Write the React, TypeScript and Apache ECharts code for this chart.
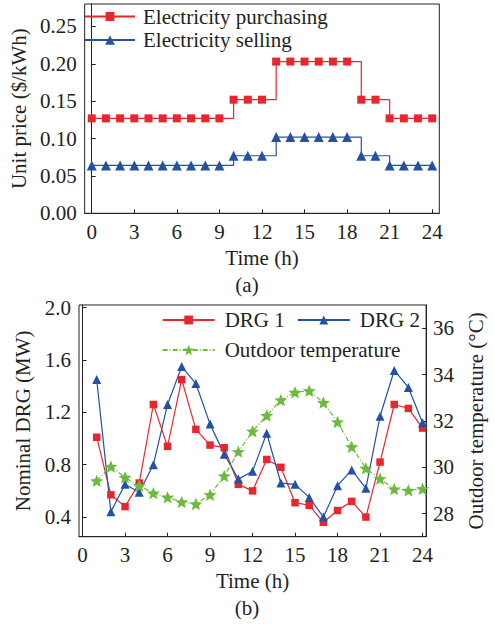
import React, { useEffect, useRef } from "react";
import * as echarts from "echarts";

const hoursTop = [0, 1, 2, 3, 4, 5, 6, 7, 8, 9, 10, 11, 12, 13, 14, 15, 16, 17, 18, 19, 20, 21, 22, 23, 24];
const purchasing = [0.127, 0.127, 0.127, 0.127, 0.127, 0.127, 0.127, 0.127, 0.127, 0.127, 0.152, 0.152, 0.152, 0.203, 0.203, 0.203, 0.203, 0.203, 0.203, 0.152, 0.152, 0.127, 0.127, 0.127, 0.127];
const selling = [0.064, 0.064, 0.064, 0.064, 0.064, 0.064, 0.064, 0.064, 0.064, 0.064, 0.077, 0.077, 0.077, 0.102, 0.102, 0.102, 0.102, 0.102, 0.102, 0.077, 0.077, 0.064, 0.064, 0.064, 0.064];

const hoursBottom = [1, 2, 3, 4, 5, 6, 7, 8, 9, 10, 11, 12, 13, 14, 15, 16, 17, 18, 19, 20, 21, 22, 23, 24];
const drg1 = [1.01, 0.57, 0.48, 0.66, 1.26, 0.94, 1.45, 1.07, 0.95, 0.93, 0.65, 0.6, 0.84, 0.78, 0.51, 0.49, 0.36, 0.45, 0.52, 0.4, 0.82, 1.26, 1.23, 1.08];
const drg2 = [1.45, 0.44, 0.65, 0.59, 0.8, 1.26, 1.55, 1.42, 1.11, 0.88, 0.69, 0.75, 1.04, 0.66, 0.65, 0.55, 0.4, 0.64, 0.76, 0.62, 1.17, 1.52, 1.39, 1.12];
const temperature = [29.41, 30.03, 29.56, 29.2, 28.88, 28.7, 28.5, 28.41, 28.81, 29.62, 30.67, 31.55, 32.23, 32.9, 33.23, 33.3, 32.79, 31.95, 30.88, 29.95, 29.5, 29.06, 29.0, 29.07];

const xTicks = [0, 3, 6, 9, 12, 15, 18, 21, 24];
const priceTicks = [0, 0.05, 0.1, 0.15, 0.2, 0.25];
const drgTicks = [0.4, 0.8, 1.2, 1.6, 2.0];
const tempTicks = [28, 30, 32, 34, 36];

const FONT = "'Liberation Serif', 'Times New Roman', 'DejaVu Serif', serif";
const TXT = "#231f20";
const RED = "#e8262d";
const BLUE = "#2352a3";
const GREEN = "#6cbb3c";
const FS = 21;
const STAR = "path://M50 0L62.93 32.2L97.55 34.55L70.92 56.8L79.39 90.45L50 72L20.61 90.45L29.08 56.8L2.45 34.55L37.07 32.2Z";

export default function App() {
  const ref = useRef<HTMLDivElement>(null);
  useEffect(() => {
    document.body.style.margin = "0";
    const chart = echarts.init(ref.current!, null, { renderer: "svg" });
    const axisLine = { show: true, lineStyle: { color: "#222", width: 1 } };
    const label = { color: TXT, fontSize: FS, fontFamily: FONT };
    const nameStyle = { color: TXT, fontSize: FS, fontFamily: FONT };
    const legendTop = { color: TXT, fontSize: FS, fontFamily: FONT, padding: [0, 0, 0, 3] };
    const legendBottom = { color: TXT, fontSize: FS, fontFamily: FONT, padding: [0, 0, 0, 5] };
    const pair = (xs: number[], ys: number[]) => xs.map((x, i) => [x, ys[i]]);

    chart.setOption({
      animation: false,
      backgroundColor: "#fff",
      grid: [
        { left: 79.3, right: 54.7, top: 4, bottom: 412.7, show: true, borderColor: "#222", borderWidth: 1, backgroundColor: "transparent" },
        { left: 79, right: 54.7, top: 305, bottom: 89.3, show: true, borderColor: "#222", borderWidth: 1, backgroundColor: "transparent" },
      ],
      xAxis: [
        {
          type: "value", gridIndex: 0, min: -0.5, max: 24.5,
          name: "Time (h)", nameLocation: "middle", nameGap: 34, nameTextStyle: nameStyle,
          axisLine, splitLine: { show: false },
          axisTick: { show: true, inside: true, length: 4, customValues: xTicks, lineStyle: { color: "#222" } },
          axisLabel: { ...label, margin: 8, customValues: xTicks, formatter: (v: number) => String(v) },
        },
        {
          type: "value", gridIndex: 1, min: -0.25, max: 24.25,
          name: "Time (h)", nameLocation: "middle", nameGap: 34, nameTextStyle: nameStyle,
          axisLine, splitLine: { show: false },
          axisTick: { show: true, inside: true, length: 4, customValues: xTicks, lineStyle: { color: "#222" } },
          axisLabel: { ...label, margin: 8, customValues: xTicks, formatter: (v: number) => String(v) },
        },
      ],
      yAxis: [
        {
          type: "value", gridIndex: 0, min: 0, max: 0.28,
          name: "Unit price ($/kWh)", nameLocation: "middle", nameGap: 51, nameTextStyle: nameStyle,
          axisLine, splitLine: { show: false },
          axisTick: { show: true, inside: true, length: 4, customValues: priceTicks, lineStyle: { color: "#222" } },
          axisLabel: { ...label, margin: 8, customValues: priceTicks, formatter: (v: number) => v.toFixed(2) },
        },
        {
          type: "value", gridIndex: 1, min: 0.25, max: 2.02,
          name: "Nominal DRG (MW)", nameLocation: "middle", nameGap: 38, nameTextStyle: nameStyle,
          axisLine, splitLine: { show: false },
          axisTick: { show: true, inside: true, length: 4, customValues: drgTicks, lineStyle: { color: "#222" } },
          axisLabel: { ...label, margin: 8, customValues: drgTicks, formatter: (v: number) => v.toFixed(1) },
        },
        {
          type: "value", gridIndex: 1, position: "right", min: 27, max: 37,
          name: "Outdoor temperature (°C)", nameLocation: "middle", nameGap: 33, nameTextStyle: nameStyle,
          axisLine, splitLine: { show: false },
          axisTick: { show: true, inside: true, length: 4, customValues: tempTicks, lineStyle: { color: "#222" } },
          axisLabel: { ...label, margin: 7, customValues: tempTicks, formatter: (v: number) => String(v) },
        },
      ],
      legend: [
        { data: ["Electricity purchasing"], left: 84, top: 6, orient: "vertical", padding: 0, itemWidth: 50, itemHeight: 11, textStyle: legendTop },
        { data: ["Electricity selling"], left: 84, top: 29.5, orient: "vertical", padding: 0, itemWidth: 50, itemHeight: 12, textStyle: legendTop },
        { data: ["DRG 1", "DRG 2"], left: 161.7, top: 309.5, orient: "horizontal", padding: 0, itemGap: 12, itemWidth: 52, itemHeight: 11, textStyle: legendBottom },
        { data: ["Outdoor temperature"], left: 161.7, top: 339.5, orient: "horizontal", padding: 0, itemWidth: 52, itemHeight: 13, textStyle: legendBottom },
      ],
      graphic: [
        { type: "text", left: "center", top: 274, style: { text: "(a)", fill: TXT, font: `${FS}px ${FONT}` } },
        { type: "text", left: "center", top: 597, style: { text: "(b)", fill: TXT, font: `${FS}px ${FONT}` } },
      ],
      series: [
        {
          name: "Electricity purchasing", type: "line", xAxisIndex: 0, yAxisIndex: 0, step: "end",
          data: pair(hoursTop, purchasing), symbol: "rect", symbolSize: 8,
          itemStyle: { color: RED }, lineStyle: { color: RED, width: 1.2 },
        },
        {
          name: "Electricity selling", type: "line", xAxisIndex: 0, yAxisIndex: 0, step: "end",
          data: pair(hoursTop, selling), symbol: "triangle", symbolSize: 10,
          itemStyle: { color: BLUE }, lineStyle: { color: BLUE, width: 1.2 },
        },
        {
          name: "DRG 1", type: "line", xAxisIndex: 1, yAxisIndex: 1,
          data: pair(hoursBottom, drg1), symbol: "rect", symbolSize: 7.5,
          itemStyle: { color: RED }, lineStyle: { color: RED, width: 1.2 },
        },
        {
          name: "DRG 2", type: "line", xAxisIndex: 1, yAxisIndex: 1,
          data: pair(hoursBottom, drg2), symbol: "triangle", symbolSize: 9,
          itemStyle: { color: BLUE }, lineStyle: { color: BLUE, width: 1.2 },
        },
        {
          name: "Outdoor temperature", type: "line", xAxisIndex: 1, yAxisIndex: 2,
          data: pair(hoursBottom, temperature), symbol: STAR, symbolSize: 13, symbolKeepAspect: true,
          itemStyle: { color: GREEN }, lineStyle: { color: GREEN, width: 1.2, type: [5, 2, 1, 2] },
        },
      ],
    });
    return () => chart.dispose();
  }, []);
  return <div ref={ref} style={{ position: "fixed", left: 0, top: 0, width: 494, height: 626 }} />;
}
